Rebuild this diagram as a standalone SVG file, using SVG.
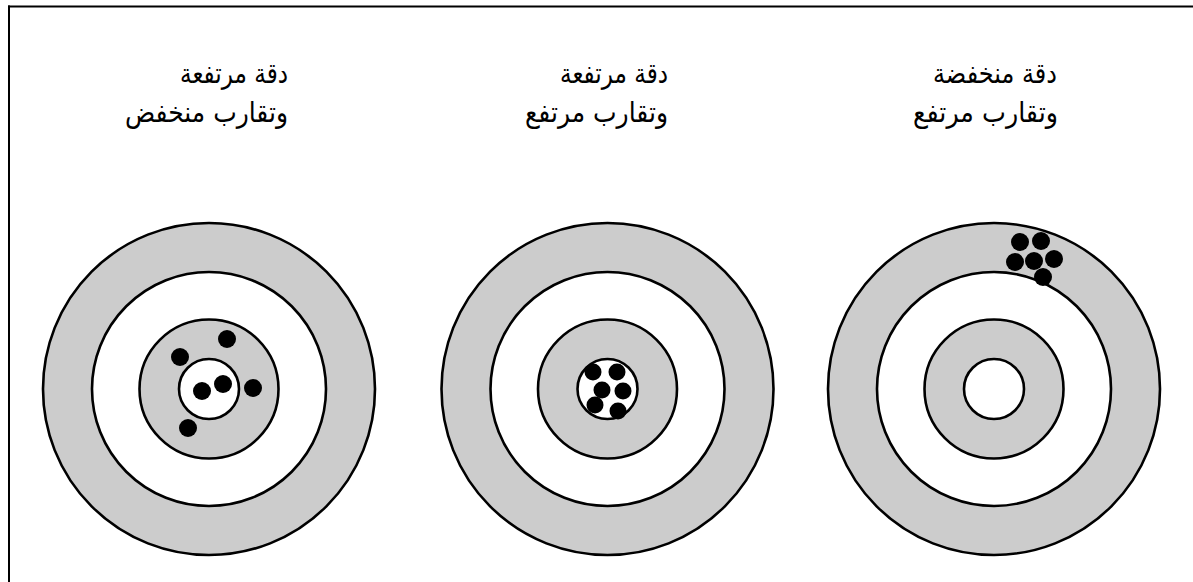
<svg xmlns="http://www.w3.org/2000/svg" width="1193" height="582" viewBox="0 0 1193 582">
<style>
.ring{stroke:#000;stroke-width:2.6}
.g{fill:#cccccc}
.w{fill:#ffffff}
.dot{fill:#000}
.lbl{font-family:"DejaVu Sans",sans-serif;font-size:28px;fill:#000;text-anchor:middle}
</style>
<rect width="1193" height="582" fill="#fff"/>
<g id="frame">
<line x1="8" y1="6.5" x2="1193" y2="6.5" stroke="#000" stroke-width="2"/>
<line x1="9" y1="5.5" x2="9" y2="582" stroke="#000" stroke-width="2"/>
</g>
<defs>
<g id="target">
<circle class="ring g" r="166"/>
<circle class="ring w" r="117"/>
<circle class="ring g" r="69.5"/>
<circle class="ring w" r="30"/>
</g>
</defs>
<g id="target1">
<use href="#target" x="209" y="389"/>
<circle class="dot" cx="227" cy="339" r="9"/>
<circle class="dot" cx="180" cy="357" r="9"/>
<circle class="dot" cx="202" cy="391" r="9"/>
<circle class="dot" cx="223" cy="384" r="9"/>
<circle class="dot" cx="253" cy="388" r="9"/>
<circle class="dot" cx="188" cy="428" r="9"/>
<text class="lbl" x="234" y="83" textLength="108" lengthAdjust="spacingAndGlyphs">دقة مرتفعة</text>
<text class="lbl" x="206.5" y="122" textLength="163" lengthAdjust="spacingAndGlyphs">وتقارب منخفض</text>
</g>
<g id="target2">
<use href="#target" x="607.5" y="389"/>
<circle class="dot" cx="593" cy="372" r="8.5"/>
<circle class="dot" cx="617" cy="372" r="8.5"/>
<circle class="dot" cx="602" cy="390" r="8.5"/>
<circle class="dot" cx="623" cy="391" r="8.5"/>
<circle class="dot" cx="595" cy="405" r="8.5"/>
<circle class="dot" cx="618" cy="411" r="8.5"/>
<text class="lbl" x="614" y="83" textLength="108" lengthAdjust="spacingAndGlyphs">دقة مرتفعة</text>
<text class="lbl" x="596.5" y="122" textLength="143" lengthAdjust="spacingAndGlyphs">وتقارب مرتفع</text>
</g>
<g id="target3">
<use href="#target" x="994" y="389"/>
<circle class="dot" cx="1020" cy="242" r="9"/>
<circle class="dot" cx="1041" cy="241" r="9"/>
<circle class="dot" cx="1015" cy="262" r="9"/>
<circle class="dot" cx="1034" cy="261" r="9"/>
<circle class="dot" cx="1054" cy="259" r="9"/>
<circle class="dot" cx="1043" cy="277" r="9"/>
<text class="lbl" x="995" y="83" textLength="124" lengthAdjust="spacingAndGlyphs">دقة منخفضة</text>
<text class="lbl" x="985.5" y="122" textLength="145" lengthAdjust="spacingAndGlyphs">وتقارب مرتفع</text>
</g>
</svg>
